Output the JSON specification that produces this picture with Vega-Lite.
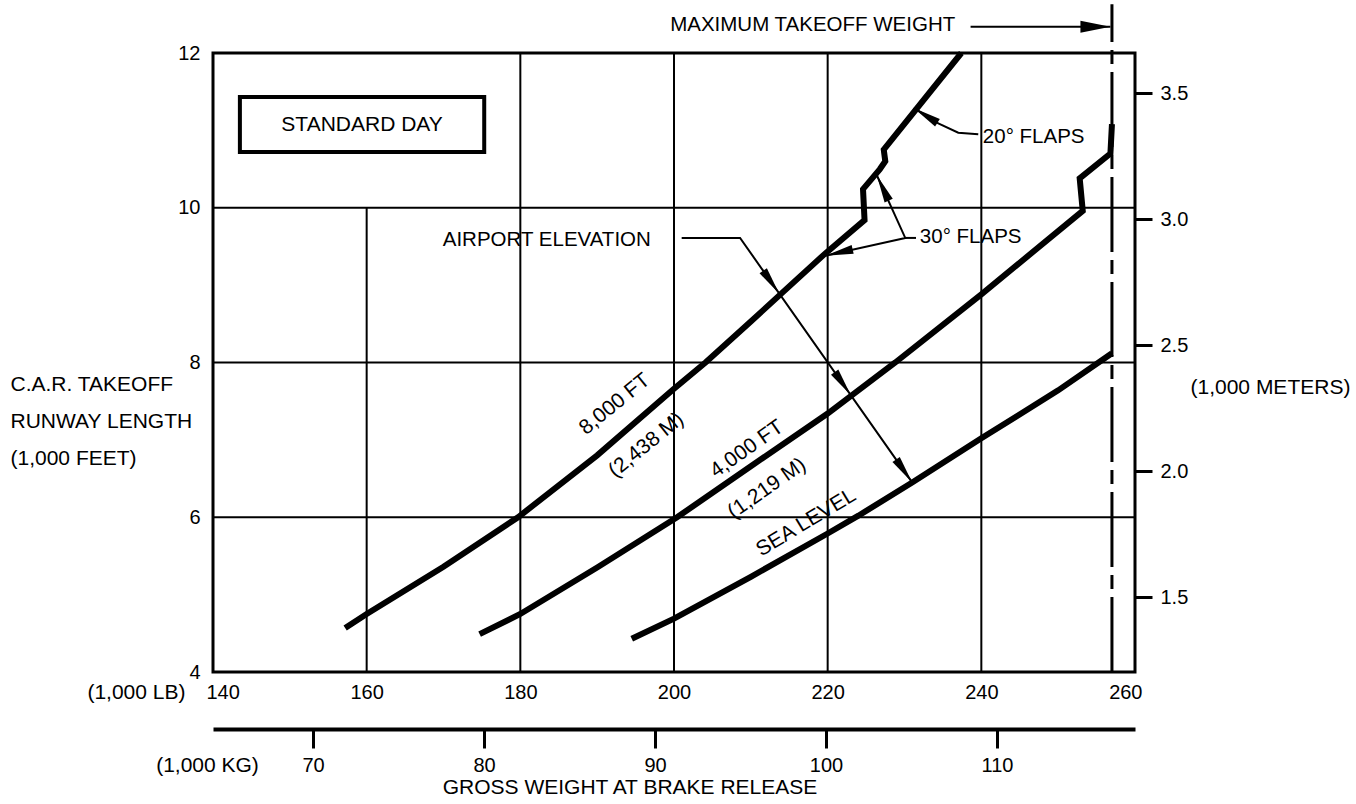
{
  "$schema": "https://vega.github.io/schema/vega-lite/v6.json",
  "width": 922,
  "height": 619,
  "autosize": "none",
  "padding": {"left": 213, "top": 53, "right": 221, "bottom": 132},
  "background": "white",
  "title": {"text": "GROSS WEIGHT AT BRAKE RELEASE", "orient": "bottom", "anchor": "middle", "fontSize": 21, "fontWeight": "normal", "font": "Liberation Sans", "color": "black", "offset": 2, "dx": -44, "baseline": "top"},
  "config": {
    "font": "Liberation Sans",
    "view": {"stroke": "black", "strokeWidth": 3},
    "axis": {"labelColor": "black", "titleColor": "black", "labelFont": "Liberation Sans", "titleFont": "Liberation Sans", "titleFontWeight": "normal", "labelFontSize": 20, "titleFontSize": 21, "tickColor": "black", "domainColor": "black"},
    "text": {"font": "Liberation Sans", "fontSize": 21, "color": "black"}
  },
  "datasets": {
    "curves": [
      {"s": "8000", "i": 0, "x": 157.2, "y": 4.57},
      {"s": "8000", "i": 1, "x": 160, "y": 4.75},
      {"s": "8000", "i": 2, "x": 170, "y": 5.36},
      {"s": "8000", "i": 3, "x": 179.7, "y": 6.0},
      {"s": "8000", "i": 4, "x": 190, "y": 6.8},
      {"s": "8000", "i": 5, "x": 200, "y": 7.66},
      {"s": "8000", "i": 6, "x": 204.1, "y": 8.0},
      {"s": "8000", "i": 7, "x": 210, "y": 8.53},
      {"s": "8000", "i": 8, "x": 219.7, "y": 9.41},
      {"s": "8000", "i": 9, "x": 224.8, "y": 9.84},
      {"s": "8000", "i": 10, "x": 224.6, "y": 10.24},
      {"s": "8000", "i": 11, "x": 226.8, "y": 10.5},
      {"s": "8000", "i": 12, "x": 227.5, "y": 10.6},
      {"s": "8000", "i": 13, "x": 227.3, "y": 10.75},
      {"s": "8000", "i": 14, "x": 237.4, "y": 12.0},
      {"s": "4000", "i": 0, "x": 174.7, "y": 4.49},
      {"s": "4000", "i": 1, "x": 180, "y": 4.75},
      {"s": "4000", "i": 2, "x": 190, "y": 5.35},
      {"s": "4000", "i": 3, "x": 200.4, "y": 6.0},
      {"s": "4000", "i": 4, "x": 210, "y": 6.66},
      {"s": "4000", "i": 5, "x": 220, "y": 7.34},
      {"s": "4000", "i": 6, "x": 228.8, "y": 8.0},
      {"s": "4000", "i": 7, "x": 240, "y": 8.88},
      {"s": "4000", "i": 8, "x": 253.2, "y": 9.96},
      {"s": "4000", "i": 9, "x": 252.8, "y": 10.38},
      {"s": "4000", "i": 10, "x": 256.8, "y": 10.7},
      {"s": "4000", "i": 11, "x": 257.0, "y": 11.08},
      {"s": "SL", "i": 0, "x": 194.5, "y": 4.43},
      {"s": "SL", "i": 1, "x": 200, "y": 4.69},
      {"s": "SL", "i": 2, "x": 210, "y": 5.23},
      {"s": "SL", "i": 3, "x": 220, "y": 5.79},
      {"s": "SL", "i": 4, "x": 224, "y": 6.02},
      {"s": "SL", "i": 5, "x": 231, "y": 6.45},
      {"s": "SL", "i": 6, "x": 240, "y": 7.02},
      {"s": "SL", "i": 7, "x": 250, "y": 7.64},
      {"s": "SL", "i": 8, "x": 257, "y": 8.12}
    ],
    "gridV": [
      {"x": 160, "y": 4, "y2": 10},
      {"x": 180, "y": 4, "y2": 12},
      {"x": 200, "y": 4, "y2": 12},
      {"x": 220, "y": 4, "y2": 12},
      {"x": 240, "y": 4, "y2": 12}
    ],
    "gridH": [{"y": 6}, {"y": 8}, {"y": 10}],
    "mtow": [{"w": 257, "lo": 4, "hi": 12.63}],
    "box": [{"x": 143.5, "x2": 175.3, "y": 11.43, "y2": 10.72, "cx": 159.4, "cy": 11.07, "t": "STANDARD DAY"}],
    "leaders": [
      {"g": "ae", "i": 0, "x": 201.0, "y": 9.61},
      {"g": "ae", "i": 1, "x": 208.6, "y": 9.61},
      {"g": "ae", "i": 2, "x": 231.0, "y": 6.45},
      {"g": "f30", "i": 0, "x": 226.4, "y": 10.42},
      {"g": "f30", "i": 1, "x": 230.1, "y": 9.61},
      {"g": "f30", "i": 2, "x": 219.7, "y": 9.38},
      {"g": "f30t", "i": 0, "x": 230.1, "y": 9.61},
      {"g": "f30t", "i": 1, "x": 231.5, "y": 9.61},
      {"g": "f20", "i": 0, "x": 239.6, "y": 10.95},
      {"g": "f20", "i": 1, "x": 237.0, "y": 10.97},
      {"g": "f20", "i": 2, "x": 234.4, "y": 11.09},
      {"g": "f20", "i": 3, "x": 231.2, "y": 11.29},
      {"g": "mt", "i": 0, "x": 238.6, "y": 12.34},
      {"g": "mt", "i": 1, "x": 256.8, "y": 12.34}
    ],
    "heads": [
      {"g": "ae", "x": 213.7, "y": 8.89},
      {"g": "ae", "x": 223.0, "y": 7.58},
      {"g": "ae", "x": 231.0, "y": 6.45},
      {"g": "f30up", "x": 226.4, "y": 10.42},
      {"g": "f30left", "x": 219.7, "y": 9.38},
      {"g": "f20", "x": 231.2, "y": 11.29},
      {"g": "mt", "x": 256.8, "y": 12.34}
    ],
    "notes": [
      {"t": "AIRPORT ELEVATION", "x": 169.9, "y": 9.58},
      {"t": "30° FLAPS", "x": 232.0, "y": 9.62},
      {"t": "20° FLAPS", "x": 240.2, "y": 10.91},
      {"t": "MAXIMUM TAKEOFF WEIGHT", "x": 199.5, "y": 12.36}
    ],
    "curveLabels": [
      {"g": "a", "t": "8,000 FT", "x": 192.3, "y": 7.46},
      {"g": "a", "t": "(2,438 M)", "x": 196.4, "y": 6.93},
      {"g": "b", "t": "4,000 FT", "x": 209.5, "y": 6.88},
      {"g": "b", "t": "(1,219 M)", "x": 212.1, "y": 6.37},
      {"g": "c", "t": "SEA LEVEL", "x": 217.2, "y": 5.93}
    ],
    "kgTicks": [{"kg": 70}, {"kg": 80}, {"kg": 90}, {"kg": 100}, {"kg": 110}],
    "mTicks": [{"m": 1.5}, {"m": 2.0}, {"m": 2.5}, {"m": 3.0}, {"m": 3.5}]
  },
  "layer": [
    {
      "data": {"name": "gridV"},
      "mark": {"type": "rule", "color": "black", "strokeWidth": 2},
      "encoding": {
        "x": {"field": "x", "type": "quantitative", "scale": {"domain": [140, 260], "nice": false, "zero": false},
          "axis": {"orient": "bottom", "values": [140, 160, 180, 200, 220, 240, 260], "format": "d", "ticks": false, "domain": false, "grid": false, "labelPadding": 10, "labelFlush": true, "labelFlushOffset": 7, "title": "(1,000 LB)", "titleAngle": 0, "titleAlign": "right", "titleBaseline": "middle", "titleX": -28, "titleY": 20}},
        "y": {"field": "y", "type": "quantitative", "scale": {"domain": [4, 12], "nice": false, "zero": false},
          "axis": {"orient": "left", "values": [4, 6, 8, 10, 12], "format": "d", "ticks": false, "domain": false, "grid": false, "labelPadding": 13, "labelFlush": false, "title": ["C.A.R. TAKEOFF", "RUNWAY LENGTH", "(1,000 FEET)"], "titleAngle": 0, "titleAlign": "left", "titleBaseline": "alphabetic", "titleX": -203, "titleY": 337, "titleLineHeight": 37}},
        "y2": {"field": "y2"}
      }
    },
    {
      "data": {"name": "gridH"},
      "mark": {"type": "rule", "color": "black", "strokeWidth": 2},
      "encoding": {"y": {"field": "y", "type": "quantitative", "scale": {"domain": [4, 12], "nice": false, "zero": false}, "axis": null}}
    },
    {
      "data": {"name": "mtow"},
      "mark": {"type": "rule", "color": "black", "strokeWidth": 3, "strokeDash": [75, 8, 14, 8]},
      "encoding": {
        "x": {"field": "w", "type": "quantitative", "scale": {"domain": [140, 260], "nice": false, "zero": false}, "axis": null},
        "y": {"field": "lo", "type": "quantitative", "scale": {"domain": [4, 12], "nice": false, "zero": false}, "axis": null},
        "y2": {"field": "hi"}
      }
    },
    {
      "data": {"name": "box"},
      "mark": {"type": "rect", "fill": "white", "stroke": "black", "strokeWidth": 4},
      "encoding": {
        "x": {"field": "x", "type": "quantitative", "scale": {"domain": [140, 260], "nice": false, "zero": false}, "axis": null},
        "x2": {"field": "x2"},
        "y": {"field": "y", "type": "quantitative", "scale": {"domain": [4, 12], "nice": false, "zero": false}, "axis": null},
        "y2": {"field": "y2"}
      }
    },
    {
      "data": {"name": "box"},
      "mark": {"type": "text", "align": "center", "baseline": "middle", "fontSize": 21},
      "encoding": {
        "x": {"field": "cx", "type": "quantitative", "scale": {"domain": [140, 260], "nice": false, "zero": false}, "axis": null},
        "y": {"field": "cy", "type": "quantitative", "scale": {"domain": [4, 12], "nice": false, "zero": false}, "axis": null},
        "text": {"field": "t"}
      }
    },
    {
      "data": {"name": "curves"},
      "mark": {"type": "line", "color": "black", "strokeWidth": 6, "strokeCap": "butt", "strokeJoin": "miter"},
      "encoding": {
        "x": {"field": "x", "type": "quantitative", "scale": {"domain": [140, 260], "nice": false, "zero": false}, "axis": null},
        "y": {"field": "y", "type": "quantitative", "scale": {"domain": [4, 12], "nice": false, "zero": false}, "axis": null},
        "detail": {"field": "s"},
        "order": {"field": "i", "type": "quantitative"}
      }
    },
    {
      "data": {"name": "leaders"},
      "mark": {"type": "line", "color": "black", "strokeWidth": 2},
      "encoding": {
        "x": {"field": "x", "type": "quantitative", "scale": {"domain": [140, 260], "nice": false, "zero": false}, "axis": null},
        "y": {"field": "y", "type": "quantitative", "scale": {"domain": [4, 12], "nice": false, "zero": false}, "axis": null},
        "detail": {"field": "g"},
        "order": {"field": "i", "type": "quantitative"}
      }
    },
    {
      "data": {"name": "heads"},
      "transform": [{"filter": "datum.g === 'ae'"}],
      "mark": {"type": "point", "shape": "M0,0L-1,-0.16L-1,0.16Z", "size": 3136, "angle": 55, "filled": true, "color": "black", "opacity": 1, "strokeWidth": 0},
      "encoding": {
        "x": {"field": "x", "type": "quantitative", "scale": {"domain": [140, 260], "nice": false, "zero": false}, "axis": null},
        "y": {"field": "y", "type": "quantitative", "scale": {"domain": [4, 12], "nice": false, "zero": false}, "axis": null}
      }
    },
    {
      "data": {"name": "heads"},
      "transform": [{"filter": "datum.g === 'f30up'"}],
      "mark": {"type": "point", "shape": "M0,0L-1,-0.16L-1,0.16Z", "size": 3136, "angle": 245, "filled": true, "color": "black", "opacity": 1, "strokeWidth": 0},
      "encoding": {
        "x": {"field": "x", "type": "quantitative", "scale": {"domain": [140, 260], "nice": false, "zero": false}, "axis": null},
        "y": {"field": "y", "type": "quantitative", "scale": {"domain": [4, 12], "nice": false, "zero": false}, "axis": null}
      }
    },
    {
      "data": {"name": "heads"},
      "transform": [{"filter": "datum.g === 'f30left'"}],
      "mark": {"type": "point", "shape": "M0,0L-1,-0.16L-1,0.16Z", "size": 3136, "angle": 167, "filled": true, "color": "black", "opacity": 1, "strokeWidth": 0},
      "encoding": {
        "x": {"field": "x", "type": "quantitative", "scale": {"domain": [140, 260], "nice": false, "zero": false}, "axis": null},
        "y": {"field": "y", "type": "quantitative", "scale": {"domain": [4, 12], "nice": false, "zero": false}, "axis": null}
      }
    },
    {
      "data": {"name": "heads"},
      "transform": [{"filter": "datum.g === 'f20'"}],
      "mark": {"type": "point", "shape": "M0,0L-1,-0.16L-1,0.16Z", "size": 3136, "angle": 212, "filled": true, "color": "black", "opacity": 1, "strokeWidth": 0},
      "encoding": {
        "x": {"field": "x", "type": "quantitative", "scale": {"domain": [140, 260], "nice": false, "zero": false}, "axis": null},
        "y": {"field": "y", "type": "quantitative", "scale": {"domain": [4, 12], "nice": false, "zero": false}, "axis": null}
      }
    },
    {
      "data": {"name": "heads"},
      "transform": [{"filter": "datum.g === 'mt'"}],
      "mark": {"type": "point", "shape": "M0,0L-1,-0.2L-1,0.2Z", "size": 3600, "angle": 0, "filled": true, "color": "black", "opacity": 1, "strokeWidth": 0},
      "encoding": {
        "x": {"field": "x", "type": "quantitative", "scale": {"domain": [140, 260], "nice": false, "zero": false}, "axis": null},
        "y": {"field": "y", "type": "quantitative", "scale": {"domain": [4, 12], "nice": false, "zero": false}, "axis": null}
      }
    },
    {
      "data": {"name": "notes"},
      "mark": {"type": "text", "align": "left", "baseline": "middle", "fontSize": 20.5},
      "encoding": {
        "x": {"field": "x", "type": "quantitative", "scale": {"domain": [140, 260], "nice": false, "zero": false}, "axis": null},
        "y": {"field": "y", "type": "quantitative", "scale": {"domain": [4, 12], "nice": false, "zero": false}, "axis": null},
        "text": {"field": "t"}
      }
    },
    {
      "data": {"name": "curveLabels"},
      "transform": [{"filter": "datum.g === 'a'"}],
      "mark": {"type": "text", "align": "center", "baseline": "middle", "fontSize": 21, "angle": -39},
      "encoding": {
        "x": {"field": "x", "type": "quantitative", "scale": {"domain": [140, 260], "nice": false, "zero": false}, "axis": null},
        "y": {"field": "y", "type": "quantitative", "scale": {"domain": [4, 12], "nice": false, "zero": false}, "axis": null},
        "text": {"field": "t"}
      }
    },
    {
      "data": {"name": "curveLabels"},
      "transform": [{"filter": "datum.g === 'b'"}],
      "mark": {"type": "text", "align": "center", "baseline": "middle", "fontSize": 21, "angle": -35},
      "encoding": {
        "x": {"field": "x", "type": "quantitative", "scale": {"domain": [140, 260], "nice": false, "zero": false}, "axis": null},
        "y": {"field": "y", "type": "quantitative", "scale": {"domain": [4, 12], "nice": false, "zero": false}, "axis": null},
        "text": {"field": "t"}
      }
    },
    {
      "data": {"name": "curveLabels"},
      "transform": [{"filter": "datum.g === 'c'"}],
      "mark": {"type": "text", "align": "center", "baseline": "middle", "fontSize": 21, "angle": -31},
      "encoding": {
        "x": {"field": "x", "type": "quantitative", "scale": {"domain": [140, 260], "nice": false, "zero": false}, "axis": null},
        "y": {"field": "y", "type": "quantitative", "scale": {"domain": [4, 12], "nice": false, "zero": false}, "axis": null},
        "text": {"field": "t"}
      }
    },
    {
      "data": {"name": "kgTicks"},
      "mark": {"type": "point", "opacity": 0},
      "encoding": {
        "x": {"field": "kg", "type": "quantitative", "scale": {"domain": [64.15, 118.07], "nice": false, "zero": false},
          "axis": {"orient": "bottom", "offset": 57, "values": [70, 80, 90, 100, 110], "format": "d", "tickSize": 19, "tickWidth": 3, "domainWidth": 4, "labelPadding": 7, "labelFlush": false, "grid": false, "title": "(1,000 KG)", "titleAngle": 0, "titleAlign": "center", "titleBaseline": "middle", "titleX": -6, "titleY": 36}}
      }
    },
    {
      "data": {"name": "mTicks"},
      "mark": {"type": "point", "opacity": 0},
      "encoding": {
        "y": {"field": "m", "type": "quantitative", "scale": {"domain": [1.2024, 3.659], "nice": false, "zero": false},
          "axis": {"orient": "right", "values": [1.5, 2.0, 2.5, 3.0, 3.5], "format": ".1f", "tickSize": 17, "tickWidth": 3, "domain": false, "labelPadding": 8, "labelFlush": false, "grid": false, "title": "(1,000 METERS)", "titleAngle": 0, "titleAlign": "left", "titleBaseline": "middle", "titleX": 55, "titleY": 334}}
      }
    }
  ],
  "resolve": {"scale": {"x": "independent", "y": "independent"}, "axis": {"x": "independent", "y": "independent"}}
}
